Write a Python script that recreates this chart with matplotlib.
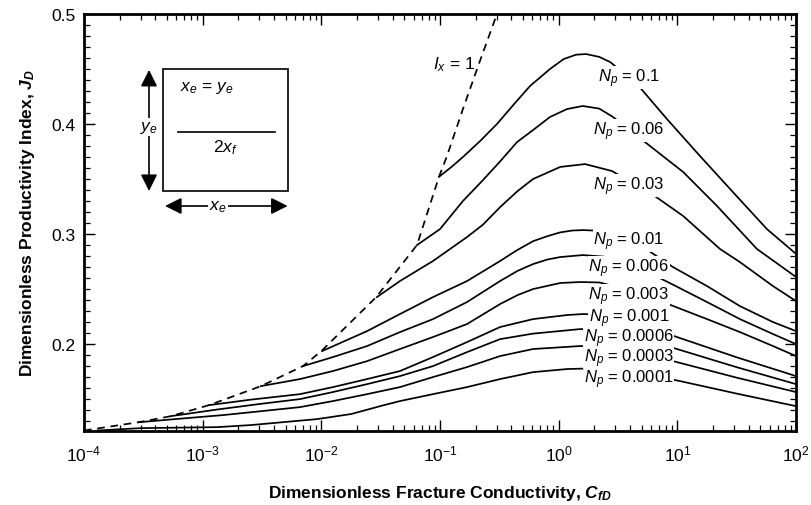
import matplotlib
matplotlib.use('Agg')
import matplotlib.pyplot as plt
from matplotlib.ticker import MultipleLocator, LogLocator, NullFormatter
from matplotlib.patches import Rectangle

plt.rcParams['font.family'] = ['Liberation Sans', 'DejaVu Sans']
plt.rcParams['mathtext.fontset'] = 'custom'
plt.rcParams['mathtext.rm'] = 'Liberation Sans'
plt.rcParams['mathtext.it'] = 'Liberation Sans:italic'
plt.rcParams['mathtext.bf'] = 'Liberation Sans:bold'
try:
    plt.rcParams['mathtext.bfit'] = 'Liberation Sans:bold:italic'
except KeyError:
    pass

# ---------------- data ----------------
np_values = ['0.1', '0.06', '0.03', '0.01', '0.006', '0.003', '0.001', '0.0006', '0.0003', '0.0001']

cfd_0p1 = [0.098, 0.125, 0.156, 0.22, 0.302, 0.42, 0.573, 0.845, 1.1, 1.4, 1.7, 2.2, 2.71, 4.57, 8.18, 15.5, 29.5, 56.9, 100]
jd_0p1 = [0.352, 0.361, 0.370, 0.385, 0.400, 0.418, 0.4345, 0.450, 0.459, 0.463, 0.4636, 0.461, 0.4564, 0.4364, 0.4045, 0.371, 0.338, 0.3045, 0.282]

cfd_0p06 = [0.064, 0.1, 0.156, 0.23, 0.321, 0.446, 0.608, 0.845, 1.175, 1.6, 2.2, 2.87, 5.34, 11.2, 21.6, 46.9, 100]
jd_0p06 = [0.29, 0.3045, 0.330, 0.349, 0.366, 0.3836, 0.3945, 0.4064, 0.4136, 0.4164, 0.414, 0.4064, 0.3836, 0.3564, 0.3255, 0.2864, 0.261]

cfd_0p03 = [0.0294, 0.046, 0.0873, 0.169, 0.23, 0.321, 0.45, 0.608, 1.03, 1.67, 2.81, 6.11, 11.2, 22.9, 33.7, 64, 100]
jd_0p03 = [0.2427, 0.2573, 0.2755, 0.2973, 0.3085, 0.3245, 0.339, 0.35, 0.361, 0.3636, 0.3573, 0.3364, 0.3164, 0.2864, 0.2745, 0.2527, 0.2391]

cfd_0p01 = [0.01014, 0.0243, 0.046, 0.0873, 0.169, 0.321, 0.44, 0.608, 0.8, 1.03, 1.3, 1.6, 2.2, 3.3, 5.45, 9.19, 17.8, 33.7, 64, 100]
jd_0p01 = [0.1936, 0.2118, 0.2273, 0.2427, 0.2573, 0.2755, 0.285, 0.2935, 0.298, 0.3015, 0.3032, 0.3036, 0.303, 0.298, 0.2864, 0.27, 0.2527, 0.2345, 0.22, 0.2118]

cfd_0p006 = [0.00702, 0.01253, 0.0243, 0.046, 0.0873, 0.169, 0.321, 0.45, 0.608, 0.8, 1.03, 1.6, 2.4, 4.0, 7.1, 9.0, 17.8, 33.7, 64, 100]
jd_0p006 = [0.18, 0.1882, 0.1982, 0.2109, 0.2227, 0.2382, 0.2573, 0.2665, 0.2727, 0.2768, 0.2791, 0.2809, 0.2795, 0.272, 0.26, 0.2545, 0.2382, 0.2227, 0.2091, 0.2]

cfd_0p003 = [0.0031, 0.00661, 0.01253, 0.0243, 0.046, 0.0873, 0.169, 0.321, 0.45, 0.608, 1.03, 1.51, 2.2, 4.0, 7.57, 17.8, 33.7, 64, 100]
jd_0p003 = [0.1618, 0.1682, 0.1755, 0.1845, 0.1955, 0.2064, 0.2182, 0.2364, 0.2445, 0.25, 0.2555, 0.2564, 0.256, 0.249, 0.2382, 0.2227, 0.2109, 0.1982, 0.1891]

cfd_0p001 = [0.00113, 0.00255, 0.00661, 0.01253, 0.0243, 0.046, 0.0873, 0.169, 0.321, 0.608, 1.175, 1.6, 2.2, 4.5, 9.93, 31.6, 100]
jd_0p001 = [0.1445, 0.1495, 0.1545, 0.1609, 0.1682, 0.1755, 0.1882, 0.2018, 0.2155, 0.2227, 0.2264, 0.2273, 0.227, 0.219, 0.2064, 0.188, 0.1709]

cfd_0p0006 = [0.00054, 0.00132, 0.003, 0.00661, 0.01253, 0.0243, 0.046, 0.0873, 0.169, 0.321, 0.608, 1.51, 2.2, 4.5, 9.93, 31.6, 100]
jd_0p0006 = [0.1345, 0.1405, 0.1455, 0.15, 0.1564, 0.1636, 0.1709, 0.18, 0.1927, 0.2045, 0.2095, 0.2136, 0.2135, 0.207, 0.1955, 0.179, 0.1636]

cfd_0p0003 = [0.00029, 0.0007, 0.0015, 0.0031, 0.00661, 0.01253, 0.0243, 0.046, 0.0873, 0.169, 0.321, 0.608, 1.51, 2.2, 4.5, 9.93, 31.6, 100]
jd_0p0003 = [0.129, 0.1325, 0.1355, 0.139, 0.1427, 0.1482, 0.1545, 0.1609, 0.17, 0.1791, 0.1891, 0.1955, 0.1982, 0.198, 0.193, 0.1836, 0.1695, 0.1564]

cfd_0p0001 = [0.00013, 0.0003, 0.00132, 0.00255, 0.00484, 0.0092, 0.0178, 0.0337, 0.046, 0.0873, 0.169, 0.321, 0.608, 1.175, 2.23, 3.29, 10.5, 31.6, 100]
jd_0p0001 = [0.1215, 0.1236, 0.1245, 0.1264, 0.1291, 0.1318, 0.1364, 0.1445, 0.1482, 0.1545, 0.1609, 0.1682, 0.1745, 0.1773, 0.1782, 0.1773, 0.1664, 0.155, 0.1436]

# I_x = 1 boundary (dashed)
cfd_ix1 = [1e-4, 2.9e-4, 5.4e-4, 1.13e-3, 3.1e-3, 7.0e-3, 0.01, 0.029, 0.064, 0.098, 0.1146, 0.156, 0.217, 0.302]
jd_ix1 = [0.1215, 0.129, 0.1345, 0.1445, 0.1618, 0.18, 0.1936, 0.2427, 0.29, 0.352, 0.371, 0.4136, 0.4573, 0.5]

# label anchor positions (x, baseline y) for each Np curve label
label_x = [3.9] * 10
label_y = [0.4391, 0.3909, 0.3409, 0.2909, 0.2664, 0.2409, 0.2205, 0.2027, 0.1845, 0.1655]

curves = [
    (cfd_0p1, jd_0p1), (cfd_0p06, jd_0p06), (cfd_0p03, jd_0p03),
    (cfd_0p01, jd_0p01), (cfd_0p006, jd_0p006), (cfd_0p003, jd_0p003),
    (cfd_0p001, jd_0p001), (cfd_0p0006, jd_0p0006), (cfd_0p0003, jd_0p0003),
    (cfd_0p0001, jd_0p0001),
]

# ---------------- figure ----------------
W, H = 812, 506
fig = plt.figure(figsize=(W / 100, H / 100), dpi=100)
ax = fig.add_axes([84 / W, (H - 432) / H, 712 / W, 417 / H])

for cx, cy in curves:
    ax.plot(cx, cy, color='black', lw=1.25, zorder=2, solid_joinstyle='round')

ax.plot(cfd_ix1, jd_ix1, color='black', lw=1.25, ls=(0, (4.4, 3.3)), zorder=2)

for v, lx, ly in zip(np_values, label_x, label_y):
    ax.text(lx, ly, r'$N_p$ = ' + v, ha='center', va='baseline', fontsize=12,
            zorder=4, bbox=dict(facecolor='white', edgecolor='none', pad=0.2))

ax.text(0.131, 0.4505, r'$I_x$ = 1', ha='center', va='baseline', fontsize=12.5, zorder=4)

ax.set_xscale('log')
ax.set_xlim(1e-4, 100)
ax.set_ylim(0.121, 0.5)

ax.yaxis.set_major_locator(MultipleLocator(0.1))
ax.yaxis.set_minor_locator(MultipleLocator(0.01))
ax.yaxis.set_major_formatter(plt.FuncFormatter(lambda v, p: f'{v:.1f}'))
ax.xaxis.set_major_locator(LogLocator(base=10, numticks=20))
ax.xaxis.set_minor_locator(LogLocator(base=10, subs=[2, 3, 4, 5, 6, 7, 8, 9], numticks=20))
ax.xaxis.set_minor_formatter(NullFormatter())

ax.tick_params(which='both', direction='in', top=True, right=True, labelsize=12.5)
ax.tick_params(which='major', length=8, width=1.0)
ax.tick_params(which='minor', length=4.5, width=0.9)
ax.tick_params(axis='y', which='major', pad=6)
ax.tick_params(axis='x', which='major', pad=9)
for s in ax.spines.values():
    s.set_linewidth(2.0)

ax.set_xlabel(r'Dimensionless Fracture Conductivity, $\mathbfit{C}_{\mathbfit{fD}}$',
              fontsize=12.5, fontweight='bold')
ax.set_ylabel(r'Dimensionless Productivity Index, $\mathbfit{J}_{\mathbfit{D}}$',
              fontsize=12.5, fontweight='bold')
ax.xaxis.set_label_coords(0.5, -0.125)
ax.yaxis.set_label_coords(-0.066, 0.5)

# ---------------- inset sketch ----------------
T = ax.transAxes
ax.add_patch(Rectangle((0.111, 0.5755), 0.1755, 0.2925, transform=T, fill=False,
                       lw=1.2, edgecolor='black', zorder=3))
ax.text(0.1728, 0.825, r'$x_e$ = $y_e$', transform=T, ha='center', va='center', fontsize=12.5)
ax.plot([0.132, 0.268], [0.717, 0.717], transform=T, color='black', lw=1.2)
ax.text(0.198, 0.683, r'2$x_f$', transform=T, ha='center', va='center', fontsize=12.5)

arrow = dict(arrowstyle='<|-|>,head_length=1.0,head_width=0.5', color='black', lw=1.2,
             shrinkA=0, shrinkB=0, mutation_scale=10)
ax.annotate('', xy=(0.0913, 0.866), xytext=(0.0913, 0.5755), xycoords=T, textcoords=T,
            arrowprops=arrow, zorder=3)
ax.text(0.0913, 0.729, r'$y_e$', transform=T, ha='center', va='center', fontsize=12.5,
        zorder=4, bbox=dict(facecolor='white', edgecolor='none', pad=1.0))
ax.annotate('', xy=(0.1138, 0.5396), xytext=(0.286, 0.5396), xycoords=T, textcoords=T,
            arrowprops=arrow, zorder=3)
ax.text(0.188, 0.5396, r'$x_e$', transform=T, ha='center', va='center', fontsize=12.5,
        zorder=4, bbox=dict(facecolor='white', edgecolor='none', pad=1.0))

fig.savefig('out.png', dpi=100)
